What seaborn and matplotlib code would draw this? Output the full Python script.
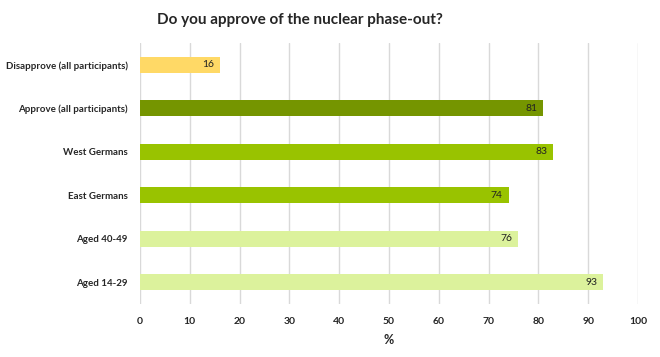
import matplotlib
matplotlib.use("Agg")
import matplotlib.pyplot as plt
import seaborn as sns
import pandas as pd

categories = ["Disapprove (all participants)", "Approve (all participants)",
              "West Germans", "East Germans", "Aged 40-49", "Aged 14-29"]
values = [16, 81, 83, 74, 76, 93]
colors = ["#FFD966", "#759500", "#99C300", "#99C300", "#DCF29C", "#DCF29C"]
xticks = [0, 10, 20, 30, 40, 50, 60, 70, 80, 90, 100]

sns.set_theme(style="white")
plt.rcParams["font.family"] = ["Lato", "DejaVu Sans"]

df = pd.DataFrame({"cat": categories, "val": values})

fig = plt.figure(figsize=(6.6, 3.57), dpi=100)
ax = fig.add_axes([140/660, 1 - 304/357, (638-140)/660, (304-43)/357])
sns.barplot(data=df, y="cat", x="val", hue="cat", palette=colors, legend=False,
            width=0.37, ax=ax, saturation=1, edgecolor="none")

for i, v in enumerate(values):
    ax.text(v - 1.2, i, str(v), ha="right", va="center", fontsize=7.5, color="#222222")

ax.set_xlim(0, 100)
ax.set_xticks(xticks)
ax.set_xticklabels([str(t) for t in xticks], fontsize=7.5, fontweight="bold")
ax.tick_params(axis="y", labelsize=7, length=0, pad=9)
ax.tick_params(axis="x", length=0, pad=9)
for lab in ax.get_yticklabels():
    lab.set_fontweight("bold")
ax.set_ylabel("")
ax.set_xlabel("%", fontsize=9, fontweight="bold", labelpad=6)
ax.grid(axis="x", color="#D9D9D9", linewidth=1)
ax.set_axisbelow(True)
for s in ax.spines.values():
    s.set_visible(False)

fig.text(300/660, 1 - 20/357, "Do you approve of the nuclear phase-out?",
         ha="center", va="center", fontsize=11, fontweight="bold")

fig.savefig("out.png", dpi=100)
